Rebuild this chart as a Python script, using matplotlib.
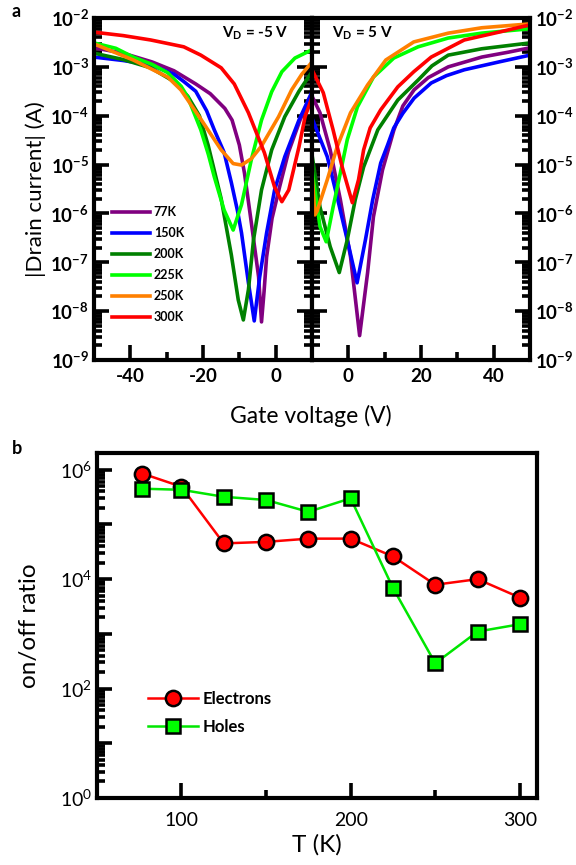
import matplotlib
matplotlib.use('Agg')
import matplotlib.pyplot as plt
import numpy as np

plt.rcParams['font.family'] = ['Lato', 'DejaVu Sans']
plt.rcParams['mathtext.fontset'] = 'custom'
plt.rcParams['mathtext.rm'] = 'Lato:bold'
plt.rcParams['mathtext.it'] = 'Lato:bold'
plt.rcParams['mathtext.bf'] = 'Lato:bold'
plt.rcParams['axes.linewidth'] = 3

temps = ['77K', '150K', '200K', '225K', '250K', '300K']
colors = ['#800080', '#0000ff', '#008000', '#00ff00', '#ff8000', '#ff0000']

# panel a, V_D = -5 V : gate voltage (V) and log10 |I_D| (A)
neg_77_v = [-50, -42, -34, -28, -22, -18, -14, -12, -10, -8.6, -6.7, -4.7, -3.9, -3.2, -2.5, -1, 1.1, 3.5, 6.7, 10]
neg_77_i = [-2.61, -2.72, -2.90, -3.08, -3.35, -3.55, -3.85, -4.09, -4.6, -5.17, -6.19, -7.30, -8.22, -7.6, -6.89, -6.1, -5.45, -4.75, -4.09, -3.53]
neg_150_v = [-50, -42, -34.4, -28, -25.3, -22, -19, -16.9, -14.2, -12.2, -10.5, -9.4, -7.5, -5.9, -4.4, -2.5, -0.3, 2.5, 6.4, 10]
neg_150_i = [-2.80, -2.87, -2.96, -3.15, -3.30, -3.50, -3.90, -4.29, -4.75, -5.37, -5.95, -6.40, -7.42, -8.20, -7.30, -6.40, -5.52, -4.84, -4.09, -3.51]
neg_200_v = [-50, -42, -34.4, -28, -24.2, -21, -18.6, -15, -12.2, -10.3, -8.9, -7.5, -6.1, -3.9, -1.1, 2.5, 6.4, 10]
neg_200_i = [-2.72, -2.85, -3.02, -3.30, -3.60, -4.0, -4.6, -5.7, -6.85, -7.77, -8.18, -7.56, -6.54, -5.52, -4.70, -4.02, -3.50, -3.10]
neg_225_v = [-50, -44, -39.2, -34, -29.7, -26, -24.2, -20.6, -18.5, -16.9, -14.2, -11.7, -9.4, -6.7, -3.9, -1.1, 1.7, 5.3, 10]
neg_225_i = [-2.51, -2.62, -2.80, -2.95, -3.12, -3.40, -3.62, -4.29, -4.80, -5.25, -5.93, -6.34, -5.82, -4.90, -4.09, -3.51, -3.10, -2.82, -2.65]
neg_250_v = [-50, -39.2, -29.7, -26.1, -20.6, -15, -11.7, -9.4, -6.7, -3.9, 0.8, 4.4, 7.2, 10]
neg_250_i = [-2.53, -2.86, -3.21, -3.47, -4.07, -4.70, -4.98, -5.01, -4.88, -4.62, -4.02, -3.47, -3.15, -2.90]
neg_300_v = [-50, -42, -34.4, -25.3, -20.6, -15, -11.4, -7.5, -3.1, -0.3, 1.7, 3.6, 6.4, 8.1, 10]
neg_300_i = [-2.29, -2.36, -2.45, -2.59, -2.76, -3.02, -3.35, -3.94, -4.76, -5.46, -5.76, -5.52, -4.64, -4.02, -3.62]

# panel a, V_D = 5 V
pos_77_v = [-10, -7.8, -5, -2.2, 0.6, 3.1, 5.3, 6.9, 9.4, 12.5, 15, 18.1, 22, 27.5, 36.7, 44, 50]
pos_77_i = [-3.60, -3.94, -4.70, -5.72, -6.89, -8.50, -7.21, -6.07, -5.11, -4.30, -3.80, -3.47, -3.22, -3.00, -2.80, -2.70, -2.61]
pos_150_v = [-10, -5.8, -3.1, -0.3, 2.4, 4.7, 6.7, 8.9, 10.8, 12.5, 15, 18.1, 22.8, 27, 31.9, 41.4, 50]
pos_150_i = [-4.05, -4.84, -5.66, -6.54, -7.42, -6.54, -5.72, -4.97, -4.60, -4.25, -3.95, -3.64, -3.33, -3.18, -3.06, -2.90, -2.76]
pos_200_v = [-10, -7.8, -5, -2.5, -0.3, 1.9, 4.2, 8.1, 13.6, 19.2, 23, 27.5, 36.7, 50]
pos_200_i = [-4.80, -5.87, -6.68, -7.21, -6.54, -5.72, -5.05, -4.29, -3.68, -3.27, -2.98, -2.76, -2.63, -2.51]
pos_225_v = [-10, -7.8, -6.1, -4.2, -2.2, -0.3, 2.5, 6.9, 12.5, 19.2, 27.5, 36.7, 50]
pos_225_i = [-5.11, -6.27, -6.58, -5.87, -5.17, -4.49, -3.82, -3.21, -2.82, -2.59, -2.41, -2.31, -2.22]
pos_250_v = [-10, -9.2, -8.6, -5.8, -3.1, 0.6, 5.3, 10.3, 18, 27.5, 36.7, 50]
pos_250_i = [-5.2, -6.03, -5.95, -5.31, -4.64, -3.94, -3.37, -2.86, -2.49, -2.31, -2.20, -2.12]
pos_300_v = [-10, -6.9, -4.2, -1.7, 1.1, 2.8, 4.2, 6, 8.9, 13.6, 18, 22.8, 31.9, 41.4, 50]
pos_300_i = [-3.06, -3.53, -4.29, -5.05, -5.78, -5.31, -4.70, -4.25, -3.88, -3.41, -3.10, -2.80, -2.45, -2.29, -2.14]

neg_curves = [(neg_77_v, neg_77_i), (neg_150_v, neg_150_i), (neg_200_v, neg_200_i),
              (neg_225_v, neg_225_i), (neg_250_v, neg_250_i), (neg_300_v, neg_300_i)]
pos_curves = [(pos_77_v, pos_77_i), (pos_150_v, pos_150_i), (pos_200_v, pos_200_i),
              (pos_225_v, pos_225_i), (pos_250_v, pos_250_i), (pos_300_v, pos_300_i)]

# panel b
temp_k = [77, 100, 125, 150, 175, 200, 225, 250, 275, 300]
ratio_electrons = [8.5e5, 4.9e5, 4.5e4, 4.8e4, 5.5e4, 5.5e4, 2.6e4, 7.9e3, 1.0e4, 4.6e3]
ratio_holes = [4.5e5, 4.3e5, 3.2e5, 2.8e5, 1.7e5, 3.0e5, 6.9e3, 2.9e2, 1.1e3, 1.5e3]

fig = plt.figure(figsize=(5.76, 8.65), dpi=100)
ax_l = fig.add_axes([0.1632, 0.5838, 0.3785, 0.3954])
ax_r = fig.add_axes([0.5417, 0.5838, 0.3785, 0.3954])

exp_labels = [r'$\mathregular{10^{%d}}$' % e for e in range(-9, -1)]
for ax in (ax_l, ax_r):
    ax.set_yscale('log')
    ax.set_ylim(1e-9, 1e-2)
    ax.set_yticks([10.0 ** e for e in range(-9, -1)])
    ax.yaxis.set_minor_locator(matplotlib.ticker.LogLocator(base=10, subs=np.arange(2, 10), numticks=20))
    ax.yaxis.set_minor_formatter(matplotlib.ticker.NullFormatter())
    ax.tick_params(which='both', direction='in', width=2.6, left=True, right=True, top=False, bottom=True)
    ax.tick_params(which='major', length=11, labelsize=13.5)
    ax.tick_params(which='minor', length=6)
    ax.tick_params(axis='x', pad=6)

for (v, li), c, t in zip(neg_curves, colors, temps):
    ax_l.plot(v, 10.0 ** np.array(li), color=c, lw=2.6, label=t)
for (v, li), c in zip(pos_curves, colors):
    ax_r.plot(v, 10.0 ** np.array(li), color=c, lw=2.6)

ax_l.set_xlim(-50, 10)
ax_l.set_xticks([-40, -20, 0])
ax_l.set_xticks([-30, -10], minor=True)
ax_l.set_xticklabels(['-40', '-20', '0'], fontweight='bold')
ax_l.set_yticklabels(exp_labels, fontweight='bold')
ax_l.tick_params(axis='y', labelleft=True, labelright=False)

ax_r.set_xlim(-10, 50)
ax_r.set_xticks([0, 20, 40])
ax_r.set_xticks([10, 30], minor=True)
ax_r.set_xticklabels(['0', '20', '40'], fontweight='bold')
ax_r.set_yticklabels(exp_labels, fontweight='bold')
ax_r.tick_params(axis='y', labelleft=False, labelright=True)

ax_l.set_ylabel('|Drain current| (A)', fontsize=16, labelpad=3)
fig.text(0.54, 0.519, 'Gate voltage (V)', fontsize=16.5, ha='center', va='center')
ax_l.text(0.587, 0.955, r'V$_\mathregular{D}$ = -5 V', transform=ax_l.transAxes,
          fontsize=11, fontweight='bold', va='center')
ax_r.text(0.093, 0.955, r'V$_\mathregular{D}$ = 5 V', transform=ax_r.transAxes,
          fontsize=11, fontweight='bold', va='center')

leg = ax_l.legend(loc='upper left', bbox_to_anchor=(0.083, 0.45), frameon=False,
                  borderpad=0, borderaxespad=0, handlelength=3.0, handletextpad=0.33,
                  labelspacing=0.72, prop={'size': 9, 'weight': 'bold'})

# panel b
ax_b = fig.add_axes([0.168, 0.0775, 0.764, 0.3985])
ax_b.set_yscale('log')
ax_b.set_ylim(1, 2e6)
ax_b.set_xlim(50, 310)
ax_b.plot(temp_k, ratio_electrons, '-o', color='#ff0000', lw=1.8, ms=11,
          mfc='#ff0000', mec='black', mew=1.8, label='Electrons')
ax_b.plot(temp_k, ratio_holes, '-s', color='#00e600', lw=1.8, ms=10,
          mfc='#00ff00', mec='black', mew=1.8, label='Holes')
ax_b.set_yticks([10.0 ** e for e in range(0, 7)])
ax_b.set_yticklabels([r'$\mathregular{10^{%d}}$' % e if e % 2 == 0 else '' for e in range(0, 7)])
ax_b.yaxis.set_minor_locator(matplotlib.ticker.LogLocator(base=10, subs=np.arange(2, 10), numticks=20))
ax_b.yaxis.set_minor_formatter(matplotlib.ticker.NullFormatter())
ax_b.set_xticks([100, 200, 300])
ax_b.set_xticks([150, 250], minor=True)
ax_b.tick_params(which='both', direction='in', width=2.6, left=True, right=False, top=False, bottom=True)
ax_b.tick_params(which='major', length=11, labelsize=14)
ax_b.tick_params(which='minor', length=6)
ax_b.tick_params(axis='x', pad=10)
ax_b.set_xlabel('T (K)', fontsize=17.5, labelpad=4)
ax_b.set_ylabel('on/off ratio', fontsize=17.5, labelpad=14)
ax_b.legend(loc='upper left', bbox_to_anchor=(0.116, 0.31), frameon=False,
            borderpad=0, borderaxespad=0, handlelength=3.0, handletextpad=0.3,
            labelspacing=0.7, prop={'size': 12, 'weight': 'bold'})

fig.text(0.02, 0.987, 'a', fontsize=13, fontweight='bold', va='center')
fig.text(0.02, 0.481, 'b', fontsize=13, fontweight='bold', va='center')

fig.savefig('out.png', dpi=100)
